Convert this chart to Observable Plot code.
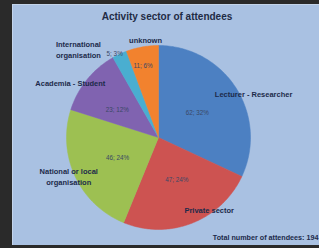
<!DOCTYPE html>
<html>
<head>
<meta charset="utf-8">
<script src="https://cdn.jsdelivr.net/npm/d3@7"></script>
<script src="https://cdn.jsdelivr.net/npm/@observablehq/plot@0.6"></script>
<style>
  html, body { margin: 0; padding: 0; background: #2a2a2a; width: 319px; height: 248px; overflow: hidden; }
  #wrap { position: absolute; left: 12px; top: 4px; width: 307px; height: 241px; background: #a9c1e2; box-shadow: inset 1px 1px 0 #c3d4ea; }
  svg { display: block; }
</style>
</head>
<body>
<div id="wrap"></div>
<script>
// ---- data ----
const categories = ["Lecturer - Researcher", "Private sector", "National or local\norganisation", "Academia - Student", "International\norganisation", "unknown"];
const counts = [62, 47, 46, 23, 5, 11];
const percents = ["32%", "24%", "24%", "12%", "3%", "6%"];
const title = "Activity sector of attendees";
const footer = "Total number of attendees: 194";

// ---- style / layout ----
const palette = ["#4c80c2", "#cd5351", "#9dc052", "#8063b0", "#4aaed0", "#f2822e"];
const valueR = [0.5, 0.5, 0.5, 0.54, 1.03, 0.8];
const valueDA = [0, -2, -2, -5, -2.5, -2];
const catR = [1.14, 0.96, 1.06, 1.13, 1.30, 1.08];
const catDA = [7.5, -13.7, 2, -7, -17, 2.7];

const total = d3.sum(counts);
const rad = Math.PI / 180;
let acc = 0;
const slices = counts.map((v, i) => {
  const a0 = acc / total * 360; acc += v;
  const a1 = acc / total * 360;
  return {i, cat: categories[i], a0, a1, mid: (a0 + a1) / 2, value: v};
});
const polys = [];
for (const s of slices) {
  polys.push({cat: s.cat, x: 0, y: 0});
  const n = Math.max(2, Math.ceil((s.a1 - s.a0)));
  for (let k = 0; k <= n; k++) {
    const a = (s.a0 + (s.a1 - s.a0) * k / n) * rad;
    polys.push({cat: s.cat, x: Math.sin(a), y: Math.cos(a)});
  }
  polys.push({cat: s.cat, x: 0, y: 0});
}
const valueLabels = slices.map(s => {
  const a = (s.mid + valueDA[s.i]) * rad, r = valueR[s.i];
  return {x: r * Math.sin(a), y: r * Math.cos(a), t: `${s.value}; ${percents[s.i]}`};
});
const catLabels = slices.map(s => {
  const a = (s.mid + catDA[s.i]) * rad, r = catR[s.i];
  return {x: r * Math.sin(a), y: r * Math.cos(a), t: s.cat};
});

const cx = 146, cy = 133, R = 92;
const chart = Plot.plot({
  width: 307, height: 241,
  margin: 0,
  style: {background: "transparent", fontFamily: "Liberation Sans, Arial, sans-serif"},
  x: {domain: [-1, 1], range: [cx - R, cx + R], axis: null},
  y: {domain: [-1, 1], range: [cy + R, cy - R], axis: null},
  color: {domain: categories, range: palette},
  marks: [
    Plot.line(polys, {x: "x", y: "y", z: "cat", fill: "cat", stroke: "cat", strokeWidth: 0.5, curve: "linear"}),
    Plot.text(valueLabels, {x: "x", y: "y", text: "t", fontSize: 6.3, fill: "#3b4866"}),
    Plot.text(catLabels, {x: "x", y: "y", text: "t", fontSize: 7.5, fontWeight: "bold", fill: "#1c2a4a", lineHeight: 1.5}),
    Plot.text([title], {text: d => d, frameAnchor: "top", dy: 8, dx: 1, fontSize: 10, fontWeight: "bold", fill: "#1f2b45"}),
    Plot.text([footer], {text: d => d, frameAnchor: "bottom-right", dy: -6, dx: -1, textAnchor: "end", fontSize: 7.2, fontWeight: "bold", fill: "#1c2a4a"})
  ]
});
document.getElementById("wrap").appendChild(chart);
</script>
</body>
</html>
